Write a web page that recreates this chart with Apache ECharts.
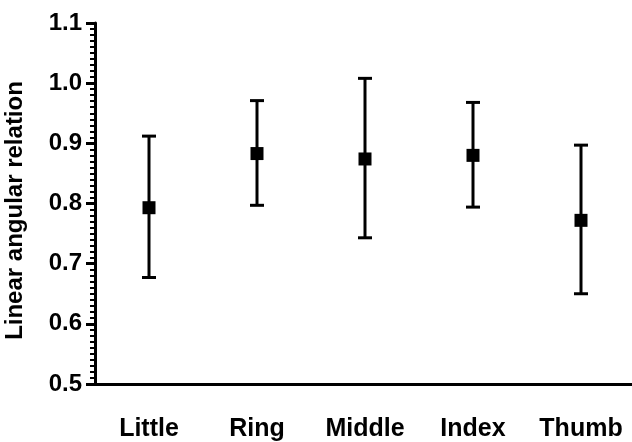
<!DOCTYPE html>
<html>
<head>
<meta charset="utf-8">
<script src="https://cdn.jsdelivr.net/npm/echarts@6/dist/echarts.min.js"></script>
<style>html,body{margin:0;padding:0;background:#fff}#c{width:632px;height:442px}</style>
</head>
<body>
<div id="c"></div>
<script>
var categories = ['Little', 'Ring', 'Middle', 'Index', 'Thumb'];
var means = [0.793, 0.883, 0.874, 0.880, 0.772];
var lows  = [0.677, 0.797, 0.743, 0.794, 0.650];
var highs = [0.912, 0.971, 1.008, 0.968, 0.897];
var yTicks = [0.5, 0.6, 0.7, 0.8, 0.9, 1.0, 1.1];

var rows = categories.map(function (c, i) { return [i, means[i], lows[i], highs[i]]; });
var FONT = '"Liberation Sans", Arial, sans-serif';

var chart = echarts.init(document.getElementById('c'), null, {renderer: 'canvas'});
chart.setOption({
  animation: false,
  backgroundColor: '#ffffff',
  grid: {left: 95, right: -3, top: 23, bottom: 58, containLabel: false, outerBoundsMode: 'none'},
  xAxis: {
    type: 'category',
    data: categories,
    boundaryGap: true,
    axisLine: {lineStyle: {color: '#000', width: 3}},
    axisTick: {alignWithLabel: true, interval: 0, length: 10, lineStyle: {color: '#000', width: 3}},
    axisLabel: {interval: 0, hideOverlap: false, color: '#000', fontFamily: FONT, fontWeight: 'bold', fontSize: 25, margin: 33}
  },
  yAxis: {
    type: 'value',
    min: yTicks[0], max: yTicks[yTicks.length - 1], interval: 0.1,
    name: 'Linear angular relation',
    nameLocation: 'middle', nameGap: 68,
    nameTextStyle: {color: '#000', fontFamily: FONT, fontWeight: 'bold', fontSize: 24, padding: [0, 14, 0, 0]},
    axisLine: {show: true, lineStyle: {color: '#000', width: 3}},
    axisTick: {show: true, length: 9, lineStyle: {color: '#000', width: 3}},
    minorTick: {show: true, splitNumber: 10, length: 5, lineStyle: {color: '#000', width: 2}},
    splitLine: {show: false},
    axisLabel: {color: '#000', fontFamily: FONT, fontWeight: 'bold', fontSize: 24, margin: 13,
      formatter: function (v) { return v.toFixed(1); }}
  },
  series: [{
    type: 'custom',
    data: rows,
    encode: {x: 0, y: [1, 2, 3]},
    renderItem: function (params, api) {
      var i = api.value(0);
      var pm = api.coord([i, api.value(1)]);
      var pl = api.coord([i, api.value(2)]);
      var ph = api.coord([i, api.value(3)]);
      var cap = 7, sq = 6.5;
      var st = {stroke: '#000', lineWidth: 3};
      return {
        type: 'group',
        children: [
          {type: 'line', shape: {x1: pm[0], y1: pl[1], x2: pm[0], y2: ph[1]}, style: st},
          {type: 'line', shape: {x1: pm[0] - cap, y1: pl[1], x2: pm[0] + cap, y2: pl[1]}, style: st},
          {type: 'line', shape: {x1: pm[0] - cap, y1: ph[1], x2: pm[0] + cap, y2: ph[1]}, style: st},
          {type: 'rect', shape: {x: pm[0] - sq, y: pm[1] - sq, width: 2 * sq, height: 2 * sq}, style: {fill: '#000'}}
        ]
      };
    }
  }]
});
</script>
</body>
</html>
